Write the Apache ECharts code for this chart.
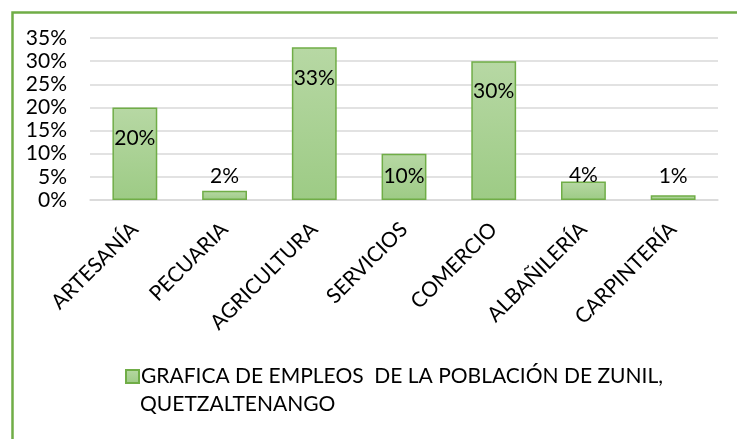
<!DOCTYPE html>
<html>
<head>
<meta charset="utf-8">
<script src="https://cdn.jsdelivr.net/npm/echarts@6/dist/echarts.min.js"></script>
<style>
  html, body { margin: 0; padding: 0; background: #fff; }
  #chart { width: 737px; height: 439px; }
</style>
</head>
<body>
<div id="chart"></div>
<script>
// Employment share by activity (percent)
const categories = ['ARTESANÍA', 'PECUARIA', 'AGRICULTURA', 'SERVICIOS', 'COMERCIO', 'ALBAÑILERÍA', 'CARPINTERÍA'];
const values = [20, 2, 33, 10, 30, 4, 1];
const seriesName = 'GRAFICA DE EMPLEOS  DE LA POBLACIÓN DE ZUNIL,';
const seriesNameLine2 = 'QUETZALTENANGO';
const yTicks = { min: 0, max: 35, step: 5 };

const FONT = 'Lato, "Open Sans", sans-serif';
const GREEN = '#70AD47';
const barFill = {
  type: 'linear', x: 0, y: 0, x2: 0, y2: 1,
  colorStops: [{ offset: 0, color: '#B7D8A4' }, { offset: 1, color: '#9DCB85' }]
};

// tall bars carry their label inside the top; short bars get it above
function labelFor(v) {
  if (v < 3) return { position: 'top', distance: v >= 2 ? 4 : 9 };
  if (v < 8) return { position: 'top', distance: -4 };
  if (v < 15) return { position: 'insideTop', distance: 12 };
  return null;
}
const barData = values.map(function (v) {
  const item = { value: v };
  const lab = labelFor(v);
  if (lab) item.label = lab;
  return item;
});

const chart = echarts.init(document.getElementById('chart'), null, { renderer: 'canvas' });
chart.setOption({
  animation: false,
  backgroundColor: '#fff',
  textStyle: { fontFamily: FONT },
  grid: { left: 90, right: 19, top: 38, bottom: 239, containLabel: false },
  graphic: [
    {
      type: 'rect', left: 10, top: 10, silent: true,
      shape: { width: 760, height: 460 },
      style: { fill: 'none', stroke: GREEN, lineWidth: 2.5 }
    },
    {
      type: 'text', left: 140, top: 394,
      style: { text: seriesNameLine2, fontFamily: FONT, fontSize: 21, fill: '#000' }
    }
  ],
  legend: {
    left: 120, top: 361,
    itemWidth: 13, itemHeight: 13,
    icon: 'rect',
    textStyle: { fontFamily: FONT, fontSize: 21, color: '#000', padding: [0, 0, 0, -3] },
    data: [seriesName]
  },
  xAxis: {
    type: 'category',
    data: categories,
    axisLine: { show: true, lineStyle: { color: '#D9D9D9', width: 1.5 } },
    axisTick: { show: false },
    axisLabel: { rotate: 45, fontFamily: FONT, fontSize: 21, color: '#000', margin: 26, interval: 0 }
  },
  yAxis: {
    type: 'value',
    min: yTicks.min, max: yTicks.max, interval: yTicks.step,
    axisLine: { show: false },
    axisTick: { show: false },
    splitLine: { lineStyle: { color: '#D9D9D9', width: 1.5 } },
    axisLabel: { formatter: '{value}%', fontFamily: FONT, fontSize: 21, color: '#000', margin: 23 }
  },
  series: [{
    name: seriesName,
    type: 'bar',
    data: barData,
    barWidth: '50%',
    itemStyle: { color: barFill, borderColor: GREEN, borderWidth: 1.5 },
    label: {
      show: true, position: 'insideTop', distance: 20,
      formatter: '{c}%', fontFamily: FONT, fontSize: 21, color: '#000'
    }
  }]
});
</script>
</body>
</html>
